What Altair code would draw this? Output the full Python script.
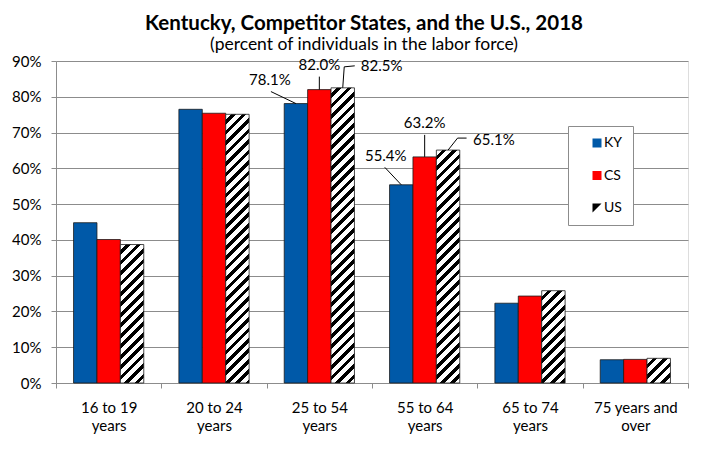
import math
import altair as alt
import pandas as pd

# ---------------- data ----------------
categories = ["16 to 19 years", "20 to 24 years", "25 to 54 years",
              "55 to 64 years", "65 to 74 years", "75 years and over"]
series = ["KY", "CS", "US"]
ky_values = [44.8, 76.5, 78.1, 55.4, 22.3, 6.5]
cs_values = [40.1, 75.4, 82.0, 63.2, 24.3, 6.6]
us_values = [38.7, 75.1, 82.5, 65.1, 25.8, 6.9]
y_ticks = [0, 10, 20, 30, 40, 50, 60, 70, 80, 90]
title_text = "Kentucky, Competitor States, and the U.S., 2018"
subtitle_text = "(percent of individuals in the labor force)"

rows = []
for i, c in enumerate(categories):
    for s, vals in zip(series, [ky_values, cs_values, us_values]):
        rows.append({"cat": c, "series": s, "value": vals[i]})
df = pd.DataFrame(rows)

# ---------------- layout / style ----------------
W, H = 632, 322
YMAX = 90
FONT = "Lato"
GRID = "#8c8c8c"
colors = ["#0059A8", "#FF0000", "#000000"]
STEP = W / len(categories) / 4.5          # width of one bar in px
sub_center = {"KY": -STEP, "CS": 0.0, "US": STEP}
US_SWATCH = "M-1,-1L1,-1L1,1L-1,1Z M1,-1L-1,1L1,1Z"

x_enc = alt.X(
    "cat:N", sort=categories,
    scale=alt.Scale(domain=categories, paddingInner=0, paddingOuter=0),
    axis=alt.Axis(
        title=None, labelAngle=0, tickBand="extent", tickSize=5,
        tickColor=GRID, domainColor=GRID, labelFont=FONT, labelFontSize=15,
        labelColor="black", labelPadding=12, labelLineHeight=18,
        labelExpr="!datum.label ? '' : (datum.label == '75 years and over' ? ['75 years and', 'over'] : [replace(datum.label, ' years', ''), 'years'])",
    ),
)
xoff_enc = alt.XOffset("series:N", sort=series,
                       scale=alt.Scale(domain=series, paddingInner=0, paddingOuter=0.75))
y_enc = alt.Y(
    "value:Q", scale=alt.Scale(domain=[0, YMAX], nice=False),
    axis=alt.Axis(
        title=None, values=y_ticks, labelExpr="datum.value + '%'",
        grid=True, gridColor=GRID, domainColor=GRID, tickColor=GRID,
        tickSize=5, labelPadding=10, labelFont=FONT, labelFontSize=15,
        labelColor="black",
    ),
)
color_scale = alt.Scale(domain=series, range=colors)
shape_scale = alt.Scale(domain=series, range=["square", "square", US_SWATCH])

legend = alt.Legend(
    orient="none", legendX=512, legendY=65, title=None, direction="vertical",
    symbolOpacity=1, symbolSize=81, symbolStrokeColor="#444", symbolStrokeWidth=0.6,
    symbolType="square",
    labelFont=FONT, labelFontSize=14, labelColor="black", rowPadding=18.5,
    padding=10, symbolOffset=12, labelOffset=0, strokeColor=GRID, fillColor="white",
    labelExpr="datum.label + '\u00a0\u00a0\u00a0\u00a0\u00a0\u00a0\u00a0\u00a0\u00a0'",
)

base = alt.Chart(df)

# KY and CS bars
bars = base.transform_filter(alt.FieldOneOfPredicate(field="series", oneOf=["KY", "CS"])).mark_bar(
    stroke="#1a1a1a", strokeWidth=0.8
).encode(
    x=x_enc, xOffset=xoff_enc, y=y_enc,
    color=alt.Color("series:N", scale=color_scale, legend=legend),
)


def stripe_gradient(h, w, period=7.4, black=0.45):
    t = (1 / h + 1 / w) / (1 / h ** 2 + 1 / w ** 2)
    dmax = (w + h) / math.sqrt(2)
    n = dmax / period
    stops = []
    k = 0
    while k < n:
        a = min(k / n, 1)
        b = min((k + 1 - black) / n, 1)
        c = min((k + 1) / n, 1)
        stops += [(a, "white"), (b, "white"), (b, "black"), (c, "black")]
        k += 1
    return alt.LinearGradient(
        gradient="linear", x1=0, y1=0, x2=t / h, y2=t / w,
        stops=[alt.GradientStop(offset=o, color=col) for o, col in stops],
    )


us_layers = []
for c, v in zip(categories, us_values):
    h = v * H / YMAX
    us_layers.append(
        base.transform_filter(
            (alt.datum.cat == c) & (alt.datum.series == "US")
        ).mark_bar(fill=stripe_gradient(h, STEP), stroke="#1a1a1a", strokeWidth=0.8).encode(
            x=x_enc, xOffset=xoff_enc, y=y_enc
        )
    )

legend_layer = base.mark_point(filled=True, opacity=0).encode(
    x=x_enc, xOffset=xoff_enc, y=y_enc,
    color=alt.Color("series:N", scale=color_scale, legend=legend),
    shape=alt.Shape("series:N", scale=shape_scale, legend=legend),
)

# annotations: (category, series, text dx, text dy, align, leader segments)
annotations = [
    ("25 to 54 years", "KY", -26, -24, "center", [((0, 0), (-25, -12))]),
    ("25 to 54 years", "CS", 0, -25, "center", [((0, 0), (0, -13))]),
    ("25 to 54 years", "US", 18, -22, "left", [((0, 0), (1.5, -21)), ((1.5, -21), (12, -22))]),
    ("55 to 64 years", "KY", -15.5, -29, "center", [((0, 0), (-16.5, -17.5))]),
    ("55 to 64 years", "CS", 0, -34, "center", [((0, 0), (0, -22))]),
    ("55 to 64 years", "US", 25, -10, "left", [((0, 0), (9.5, -12)), ((9.5, -12), (18.5, -12))]),
]
ann_layers = []
for c, s, tdx, tdy, align, segs in annotations:
    sub = base.transform_filter((alt.datum.cat == c) & (alt.datum.series == s))
    cx = sub_center[s]
    ann_layers.append(
        sub.transform_calculate(label="format(datum.value, '.1f') + '%'").mark_text(
            dx=cx + tdx, dy=tdy, align=align, baseline="middle",
            font=FONT, fontSize=15, color="black",
        ).encode(x=x_enc, y=y_enc, text="label:N")
    )
    for (ax, ay), (bx, by) in segs:
        ann_layers.append(
            sub.mark_rule(
                xOffset=cx + ax, x2Offset=cx + bx, yOffset=ay, y2Offset=by,
                color="black", strokeWidth=1,
            ).encode(x=x_enc, x2=alt.X2("cat"), y=y_enc, y2=alt.Y2("value"))
        )

chart = alt.layer(bars, *us_layers, legend_layer, *ann_layers).properties(
    width=W, height=H,
    autosize=alt.AutoSizeParams(type="none"),
    padding={"left": 48, "top": 53, "right": 13, "bottom": 66},
    title=alt.TitleParams(
        text=title_text, subtitle=subtitle_text, font=FONT, fontSize=20.5,
        fontWeight="bold", color="black", subtitleFont=FONT, subtitleFontSize=17.5,
        subtitleColor="black", anchor="middle", dx=-8, offset=1, subtitlePadding=1,
    ),
).configure_view(stroke=None).configure(font=FONT)

chart.save("out.html", embed_options={"renderer": "svg", "actions": False})
